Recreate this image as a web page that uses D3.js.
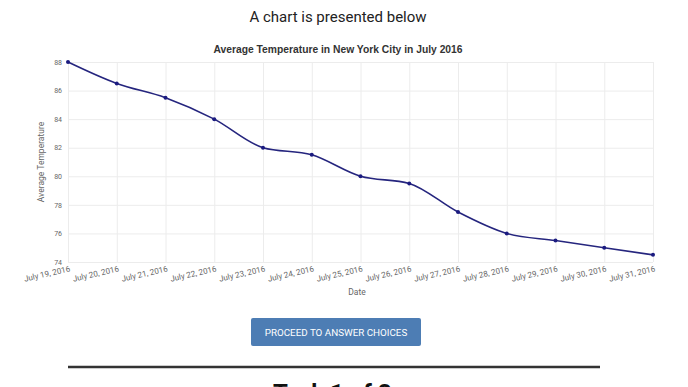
<!DOCTYPE html>
<style>
body { margin: 0; background: #fff; }
.grid line { stroke: #ececec; }
.grid .domain { display: none; }
.axis .domain { display: none; }
.axis line { display: none; }
</style>
<svg width="688" height="387"></svg>
<script src="https://d3js.org/d3.v7.min.js"></script>
<script>

var days = ["July 19, 2016", "July 20, 2016", "July 21, 2016", "July 22, 2016", "July 23, 2016",
            "July 24, 2016", "July 25, 2016", "July 26, 2016", "July 27, 2016", "July 28, 2016",
            "July 29, 2016", "July 30, 2016", "July 31, 2016"];
var temps = [88, 86.5, 85.5, 84, 82, 81.5, 80, 79.5, 77.5, 76, 75.5, 75, 74.5];
var yTicks = [74, 76, 78, 80, 82, 84, 86, 88];

var svg = d3.select("svg"),
    margin = {top: 62, right: 35, bottom: 125, left: 68},
    width = 688 - margin.left - margin.right,
    height = 387 - margin.top - margin.bottom,
    g = svg.append("g").attr("transform", "translate(" + margin.left + "," + margin.top + ")");

var font = "Roboto, 'Noto Sans', sans-serif";

svg.append("text")
    .attr("x", 338).attr("y", 22)
    .attr("text-anchor", "middle")
    .attr("font-family", font)
    .attr("font-size", 15)
    .attr("fill", "#222")
    .text("A chart is presented below");

svg.append("text")
    .attr("x", 338).attr("y", 53)
    .attr("text-anchor", "middle")
    .attr("font-family", "'Liberation Sans', Arial, sans-serif")
    .attr("font-weight", "bold")
    .attr("font-size", 10.3)
    .attr("fill", "#333")
    .text("Average Temperature in New York City in July 2016");

var x = d3.scalePoint().domain(days).range([0, width]);
var y = d3.scaleLinear().domain([74, 88]).range([height, 0]);

// grid
g.append("g").attr("class", "grid")
    .attr("transform", "translate(0," + height + ")")
    .call(d3.axisBottom(x).tickSize(-height).tickFormat(""));
g.append("g").attr("class", "grid")
    .call(d3.axisLeft(y).tickValues(yTicks).tickSize(-width).tickFormat(""));

g.append("g").attr("class", "axis")
    .call(d3.axisLeft(y).tickValues(yTicks).tickSize(0).tickPadding(6))
    .selectAll("text")
      .attr("font-family", font)
      .attr("font-size", 7)
      .attr("fill", "#666");

g.append("g").attr("class", "axis")
    .attr("transform", "translate(0," + height + ")")
    .call(d3.axisBottom(x).tickSize(0))
    .selectAll("text")
      .attr("font-family", font)
      .attr("font-size", 8)
      .attr("fill", "#666")
      .attr("text-anchor", "end")
      .attr("dx", "0")
      .attr("dy", "0.8em")
      .attr("transform", "rotate(-13)");

svg.append("text")
    .attr("transform", "translate(44," + (margin.top + height / 2) + ") rotate(-90)")
    .attr("text-anchor", "middle")
    .attr("font-family", font)
    .attr("font-size", 8.5)
    .attr("fill", "#666")
    .text("Average Temperature");

svg.append("text")
    .attr("x", 357).attr("y", 295)
    .attr("text-anchor", "middle")
    .attr("font-family", font)
    .attr("font-size", 8.5)
    .attr("fill", "#666")
    .text("Date");

var line = d3.line()
    .x(function(d, i) { return x(days[i]); })
    .y(function(d) { return y(d); })
    .curve(d3.curveMonotoneX);

g.append("path")
    .datum(temps)
    .attr("fill", "none")
    .attr("stroke", "#25257e")
    .attr("stroke-width", 1.6)
    .attr("d", line);

g.selectAll("circle")
    .data(temps)
    .enter().append("circle")
      .attr("cx", function(d, i) { return x(days[i]); })
      .attr("cy", function(d) { return y(d); })
      .attr("r", 2)
      .attr("fill", "#1b1b80");

// button
svg.append("rect")
    .attr("x", 251).attr("y", 318)
    .attr("width", 170).attr("height", 28)
    .attr("rx", 2)
    .attr("fill", "#4d7db4");
svg.append("text")
    .attr("x", 336).attr("y", 335.5)
    .attr("text-anchor", "middle")
    .attr("font-family", font)
    .attr("font-size", 9.8)
    .attr("fill", "#fff")
    .text("PROCEED TO ANSWER CHOICES");

svg.append("line")
    .attr("x1", 68).attr("x2", 600)
    .attr("y1", 367).attr("y2", 367)
    .attr("stroke", "#333")
    .attr("stroke-width", 2.5);

svg.append("text")
    .attr("x", 273).attr("y", 401)
    .attr("font-family", font)
    .attr("font-weight", "bold")
    .attr("font-size", 24)
    .attr("fill", "#111")
    .text("Task 1 of 3");

</script>
